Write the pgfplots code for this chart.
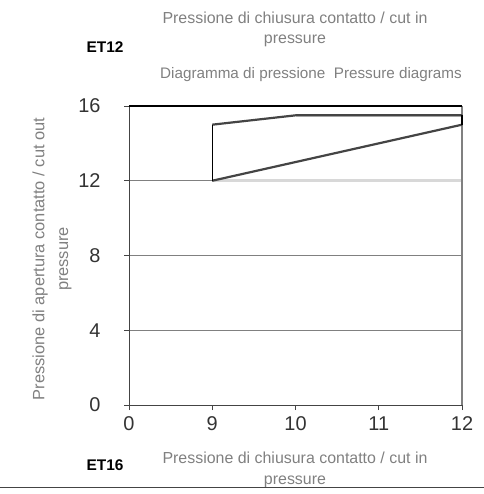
\documentclass[border=0pt]{standalone}
\usepackage{pgfplots}
\pgfplotsset{compat=1.18}
\usepackage{fontspec}
\setmainfont{Liberation Sans}
\definecolor{txtgray}{HTML}{808080}
\definecolor{tickgray}{HTML}{333333}
\definecolor{linegray}{HTML}{444444}
\definecolor{lightband}{HTML}{D8D8D8}
\begin{document}
\begin{tikzpicture}[x=1bp,y=1bp]
  \useasboundingbox (-129,-89) rectangle (355,405);
  \begin{axis}[
      at={(0,0)}, anchor=origin,
      scale only axis,
      width=333bp, height=299bp,
      xmin=0, xmax=4, ymin=0, ymax=16,
      axis lines=left,
      axis line style={-, linegray, line width=1bp},
      xtick={0,1,2,3,4},
      xticklabels={0,9,10,11,12},
      ytick={0,4,8,12,16},
      tick align=outside,
      major tick length=5bp,
      tick style={linegray, line width=0.8bp},
      ymajorgrids,
      major grid style={txtgray, line width=1bp},
      /pgf/number format/assume math mode=true,
      ticklabel style={font=\fontsize{20}{22}\selectfont, text=tickgray},
      yticklabel style={xshift=-20bp},
      xticklabel style={yshift=-3bp},
      clip=false,
    ]
    % light band round the switching zone
    \addplot[lightband, line width=2.5bp] coordinates {(1,12) (4,12) (4,15.5) (2,15.5)};
    % right border of the plot area
    \draw[txtgray, line width=1.2bp] (rel axis cs:1,0) -- (rel axis cs:1,1);
    % top border
    \draw[black, line width=1.2bp] (rel axis cs:0,1) -- (rel axis cs:1,1);
    % upper curve
    \addplot[linegray, line width=2.2bp] coordinates {(1,15) (2,15.5) (3,15.5) (4,15.5)};
    % lower curve
    \addplot[linegray, line width=2.2bp] coordinates {(1,12) (2,13) (3,14) (4,15)};
    % vertical limits
    \addplot[black, line width=1.5bp] coordinates {(1,12) (1,15)};
    \addplot[black, line width=1.5bp] coordinates {(4,15) (4,15.5)};
  \end{axis}
  % titles and labels
  \node[text=txtgray, font=\fontsize{16}{20}\selectfont, align=center] at (166,376)
    {Pressione di chiusura contatto / cut in\\pressure};
  \node[font=\fontsize{15.5}{17}\selectfont\bfseries] at (-24,358) {ET12};
  \node[text=txtgray, font=\fontsize{15.3}{17}\selectfont] at (182,330)
    {Diagramma di pressione\ \ Pressure diagrams};
  \node[text=txtgray, font=\fontsize{16.5}{24}\selectfont, align=center, rotate=90] at (-77,146)
    {Pressione di apertura contatto / cut out\\pressure};
  \node[font=\fontsize{15.5}{17}\selectfont\bfseries] at (-24,-60) {ET16};
  \node[text=txtgray, font=\fontsize{16}{21}\selectfont, align=center] at (166,-65)
    {Pressione di chiusura contatto / cut in\\pressure};
  \draw[linegray, line width=1bp] (-129,-82) -- (355,-82);
\end{tikzpicture}
\end{document}
